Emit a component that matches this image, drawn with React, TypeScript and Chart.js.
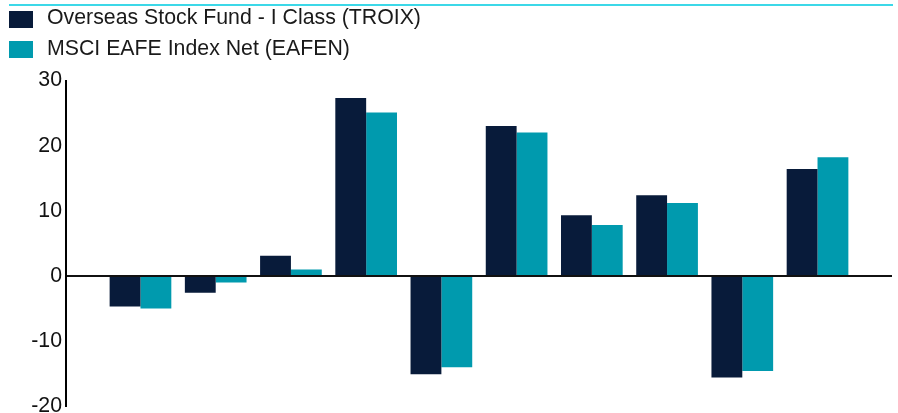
import React, { useEffect, useRef } from 'react';
import { Chart, registerables } from 'chart.js';

Chart.register(...registerables);

const categories = ['2014', '2015', '2016', '2017', '2018', '2019', '2020', '2021', '2022', '2023'];
const seriesNames = ['Overseas Stock Fund - I Class (TROIX)', 'MSCI EAFE Index Net (EAFEN)'];
const troixReturns = [-4.7, -2.6, 3.1, 27.3, -15.1, 23.0, 9.3, 12.4, -15.6, 16.4];
const eafenReturns = [-5.0, -1.0, 1.0, 25.1, -14.0, 22.0, 7.8, 11.2, -14.6, 18.2];
const seriesColors = ['#081b3a', '#009aae'];
const yTicks = [-20, -10, 0, 10, 20, 30];

const FONT = 'Arial, "Liberation Sans", Helvetica, sans-serif';
const FONT_SIZE = 21.3;
const W = 898;
const H = 413;
const CANVAS_H = 423;

export default function App() {
  const canvasRef = useRef<HTMLCanvasElement | null>(null);

  useEffect(() => {
    const canvas = canvasRef.current;
    if (!canvas) return;
    const seriesValues = [troixReturns, eafenReturns];
    const chart = new Chart(canvas, {
      type: 'bar',
      data: {
        datasets: seriesNames.map((name, s) => ({
          label: name,
          data: categories.map((_, i) => ({ x: i, y: seriesValues[s][i] })),
          backgroundColor: seriesColors[s],
          borderWidth: 0,
          categoryPercentage: 0.82,
          barPercentage: 1,
        })),
      },
      options: {
        animation: false,
        responsive: false,
        maintainAspectRatio: false,
        layout: { padding: { top: 80.5, right: 6, left: 0, bottom: 0 } },
        plugins: {
          legend: { display: false },
          tooltip: { enabled: false },
          title: { display: false },
        },
        scales: {
          x: {
            type: 'linear',
            min: -0.99,
            max: 9.99,
            offset: false,
            display: false,
            afterBuildTicks: (scale: any) => {
              scale.ticks = categories.map((_, i) => ({ value: i }));
            },
          },
          y: {
            min: yTicks[0],
            max: yTicks[yTicks.length - 1],
            ticks: {
              stepSize: 10,
              padding: 4,
              color: '#111111',
              font: { size: FONT_SIZE, family: FONT },
            },
            grid: {
              drawTicks: false,
              lineWidth: 2,
              z: 1,
              color: (ctx: any) => (ctx.tick && ctx.tick.value === 0 ? '#111111' : 'rgba(0,0,0,0)'),
            },
            border: { display: true, color: '#000000', width: 2, z: 2 },
            afterFit: (scale: any) => {
              scale.width = 66;
            },
          },
        },
      } as any,
    });
    return () => chart.destroy();
  }, []);

  return (
    <div
      style={{
        position: 'absolute',
        left: 0,
        top: 0,
        width: W,
        height: H,
        overflow: 'hidden',
        background: '#ffffff',
        fontFamily: FONT,
      }}
    >
      <canvas
        ref={canvasRef}
        width={W}
        height={CANVAS_H}
        style={{ position: 'absolute', left: 0, top: 0, width: W, height: CANVAS_H }}
      />
      <div style={{ position: 'absolute', left: 9, top: 4, width: 884, height: 2, background: '#3cd8e8' }} />
      {seriesNames.map((name, i) => (
        <React.Fragment key={name}>
          <div
            style={{
              position: 'absolute',
              left: 9,
              top: 11 + 30 * i,
              width: 24,
              height: 17,
              background: seriesColors[i],
            }}
          />
          <div
            style={{
              position: 'absolute',
              left: 47,
              top: 7 + 31 * i,
              fontSize: FONT_SIZE,
              lineHeight: FONT_SIZE + 'px',
              color: '#1a1a1a',
              whiteSpace: 'nowrap',
            }}
          >
            {name}
          </div>
        </React.Fragment>
      ))}
    </div>
  );
}
